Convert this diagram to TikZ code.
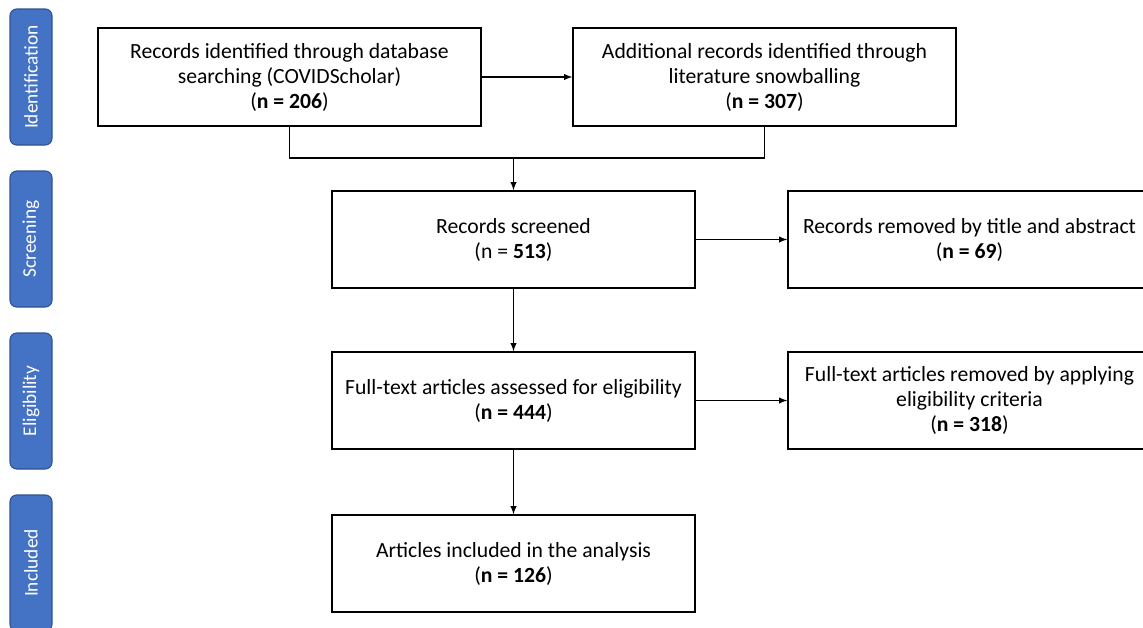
\documentclass[tikz,border=0pt]{standalone}
\usepackage{fontspec}
\setmainfont{Carlito}
\usepackage{tikz}
\usetikzlibrary{calc,arrows}
\definecolor{phase}{HTML}{4472C4}
\definecolor{phaseline}{HTML}{2F528F}

\begin{document}
\begin{tikzpicture}[x=0.75pt,y=-0.75pt,line width=1.1pt,
    box/.style={draw,align=center,minimum width=287.25pt,minimum height=73.5pt,inner sep=0pt,font=\fontsize{16.25}{18.75}\selectfont},
    sbox/.style={box,minimum width=272.25pt,minimum height=72.75pt},
    phasebox/.style={draw=phaseline,fill=phase,text=white,rounded corners=5pt,line width=0.8pt,rotate=90,
      minimum width=102pt,minimum height=31.5pt,inner sep=0pt,font=\fontsize{14.5}{17}\selectfont}]
                      \useasboundingbox (0,0) rectangle (1143,628);
                      % phase labels
                      \node[phasebox](pid)at(31,77){Identification};
                      \node[phasebox](pscr)at(31,239){Screening};
                      \node[phasebox](pelig)at(31,401){Eligibility};
                      \node[phasebox](pinc)at(31,563){Included};
                      % boxes
                      \node[box](db)at(289.5,77){Records identified through database\\searching (COVIDScholar)\\(\textbf{n = 206})};
                      \node[box](snow)at(764.5,77){Additional records identified through\\literature snowballing\\(\textbf{n = 307})};
                      \node[sbox](screen)at(513.5,239.5){Records screened\\(n = \textbf{513})};
                      \node[sbox](removed)at(969.5,239.5){Records removed by title and abstract\\(\textbf{n = 69})};
                      \node[sbox](full)at(513.5,400.5){Full-text articles assessed for eligibility\\(\textbf{n = 444})};
                      \node[sbox](excl)at(969.5,400.5){Full-text articles removed by applying\\eligibility criteria\\(\textbf{n = 318})};
                      \node[sbox](incl)at(513.5,563.5){Articles included in the analysis\\(\textbf{n = 126})};
                      % connectors
                      \coordinate(join)at(513.5,158);
                      \draw[-latex](db)--(snow);
                      \draw(db.south)--(db.south|-join)--(snow.south|-join)--(snow.south);
                      \draw[-latex](join)--(screen.north);
                      \draw[-latex](screen)--(removed);
                      \draw[-latex](screen)--(full);
                      \draw[-latex](full)--(excl);
                      \draw[-latex](full)--(incl);
                  \end{tikzpicture}
\end{document}
